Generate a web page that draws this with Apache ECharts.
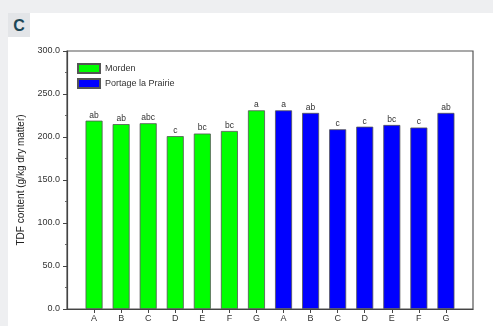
<!DOCTYPE html>
<html>
<head>
<meta charset="utf-8">
<script src="https://cdn.jsdelivr.net/npm/echarts@6/dist/echarts.min.js"></script>
<style>
  html, body { margin: 0; padding: 0; width: 493px; height: 326px; overflow: hidden; background: #eeeff1; }
  #panel { position: absolute; left: 8px; top: 13px; width: 490px; height: 320px; background: #ffffff; }
  #tag { position: absolute; left: 8px; top: 13px; width: 22px; height: 24px; background: #e3e5e8;
         font: bold 16px "Liberation Sans", Arial, sans-serif; color: #1d4757; text-align: center; line-height: 25px; }
  #chart { position: absolute; left: 0; top: 0; width: 493px; height: 326px; }
</style>
</head>
<body>
<div id="panel"></div>
<div id="tag">C</div>
<div id="chart"></div>
<script>
// Cultivars, repeated for each location
const cultivars = ['A', 'B', 'C', 'D', 'E', 'F', 'G'];
// TDF content, g/kg dry matter
const mordenValues = [219, 215, 216, 201, 204, 207, 231];
const portageValues = [231, 228, 209, 212, 214, 211, 228];
// Significance letters shown above bars
const mordenLetters = ['ab', 'ab', 'abc', 'c', 'bc', 'bc', 'a'];
const portageLetters = ['a', 'ab', 'c', 'c', 'bc', 'c', 'ab'];
const yTicks = [0, 50, 100, 150, 200, 250, 300];

// One empty slot at each end gives the axis its outer padding
const categories = [''].concat(cultivars, cultivars, ['']);
const pad = n => new Array(n).fill(null);
const mordenData = [null].concat(mordenValues, pad(7), [null]);
const portageData = [null].concat(pad(7), portageValues, [null]);
const letterFor = (letters, offset) => p => {
  const i = p.dataIndex - offset;
  return (i >= 0 && i < letters.length) ? letters[i] : '';
};

const font = '"Liberation Sans", Arial, sans-serif';
const chart = echarts.init(document.getElementById('chart'));
chart.setOption({
  animation: false,
  textStyle: { fontFamily: font },
  grid: { left: 67, top: 51, right: 20, bottom: 17, show: true, borderColor: '#555', borderWidth: 1.2, backgroundColor: 'transparent' },
  legend: {
    orient: 'vertical', left: 77, top: 63, padding: 0, itemWidth: 22, itemHeight: 9, itemGap: 4,
    icon: 'rect',
    textStyle: { fontSize: 9, color: '#333', fontFamily: font, padding: [0, 0, 0, 0] },
    data: ['Morden', 'Portage la Prairie']
  },
  xAxis: {
    type: 'category', data: categories, boundaryGap: false,
    axisLine: { lineStyle: { color: '#444', width: 1.2 } },
    axisTick: { length: 4, lineStyle: { color: '#444' }, interval: (i) => i > 0 && i < categories.length - 1 },
    axisLabel: { fontSize: 9, color: '#333', margin: 5, interval: 0 }
  },
  yAxis: {
    type: 'value', min: yTicks[0], max: yTicks[yTicks.length - 1], interval: 50,
    name: 'TDF content (g/kg dry matter)', nameLocation: 'middle', nameGap: 38,
    nameTextStyle: { fontSize: 10, color: '#222', fontFamily: font },
    axisLine: { show: true, lineStyle: { color: '#444', width: 1.2 } },
    axisTick: { show: true, length: 4, lineStyle: { color: '#444' } },
    minorTick: { show: true, splitNumber: 2, length: 2, lineStyle: { color: '#666' } },
    splitLine: { show: false },
    axisLabel: { fontSize: 9, color: '#333', margin: 7, formatter: v => v.toFixed(1) }
  },
  series: [
    {
      name: 'Morden', type: 'bar', stack: 'all', barWidth: 17, data: mordenData,
      itemStyle: { color: '#00ff00', borderColor: '#555', borderWidth: 0.8 },
      label: { show: true, position: 'top', distance: 1, fontSize: 8.5, color: '#333', formatter: letterFor(mordenLetters, 1) }
    },
    {
      name: 'Portage la Prairie', type: 'bar', stack: 'all', barWidth: 17, data: portageData,
      itemStyle: { color: '#0000ff', borderColor: '#555', borderWidth: 0.8 },
      label: { show: true, position: 'top', distance: 1, fontSize: 8.5, color: '#333', formatter: letterFor(portageLetters, 8) }
    }
  ]
});
</script>
</body>
</html>
